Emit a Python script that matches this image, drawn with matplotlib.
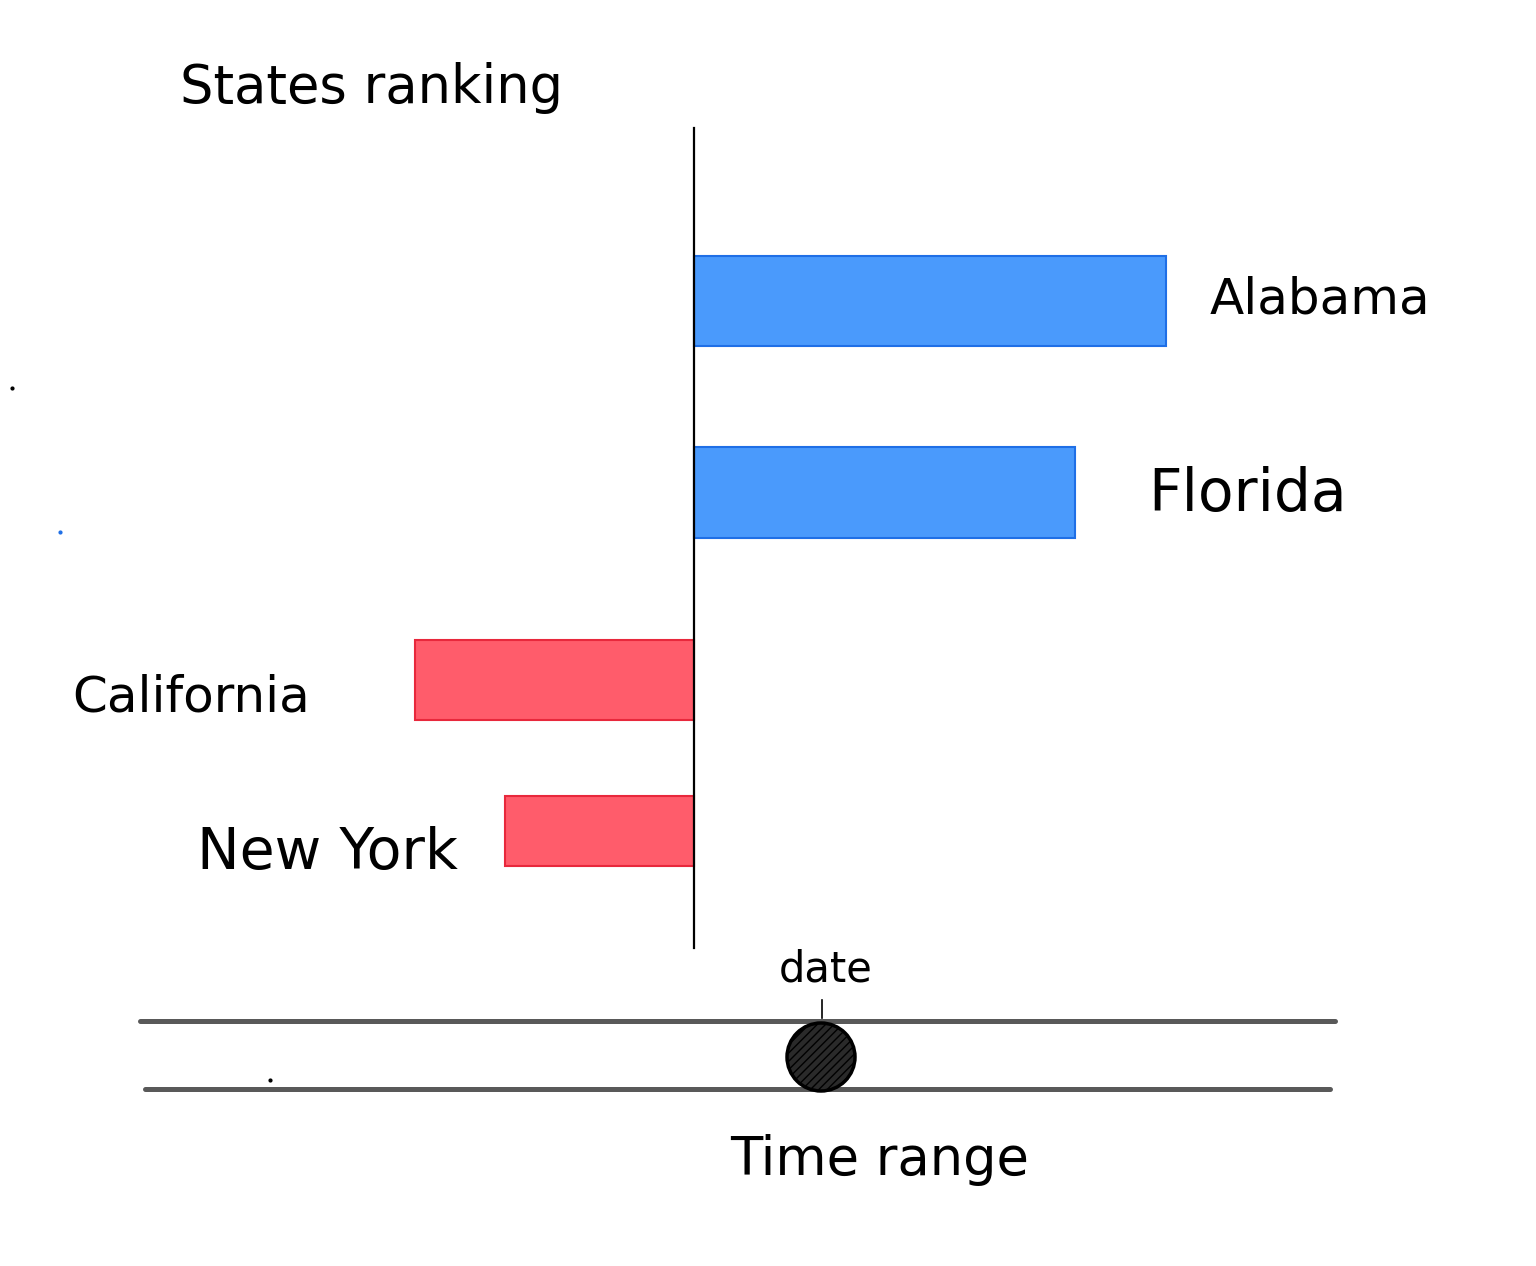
import matplotlib
matplotlib.use("Agg")
import matplotlib.pyplot as plt
from matplotlib.patches import Circle

plt.rcParams["font.family"] = ["DejaVu Sans"]

# data: hand-sketched ranking, arbitrary units (positive = blue, negative = red)
states = ["Alabama", "Florida", "California", "New York"]
values = [47.2, 38.1, -27.9, -18.9]
title = "States ranking"
slider_label = "date"
slider_caption = "Time range"

# layout (pixels on a 1536x1266 canvas)
bar_y = [301, 492, 680, 831]
bar_h = [90, 91, 80, 70]
label_x = [1210, 1148, 72, 197]
label_y = [300, 495, 698, 853]
label_fs = [36, 42, 36, 41]
W, H = 1536, 1266

fig = plt.figure(figsize=(15.36, 12.66), dpi=100)
fig.patch.set_facecolor("white")

# bars: x in value units, zero at pixel 694
ax = fig.add_axes([0, 0, 1, 1])
ax.set_xlim(-69.4, (W - 694) / 10)
ax.set_ylim(H, 0)
ax.axis("off")

face = ["#4a9afc" if v > 0 else "#ff5c6b" for v in values]
edge = ["#1f6fe6" if v > 0 else "#e8283c" for v in values]
ax.barh(bar_y, values, height=bar_h, color=face, edgecolor=edge, linewidth=1.5)
ax.plot([0, 0], [128, 948], color="black", lw=1.6)

# overlay in pixel coords for labels, title and time slider
lay = fig.add_axes([0, 0, 1, 1])
lay.set_xlim(0, W)
lay.set_ylim(H, 0)
lay.axis("off")
lay.patch.set_alpha(0)

for name, x, y, fs in zip(states, label_x, label_y, label_fs):
    lay.text(x, y, name, ha="left", va="center", fontsize=fs)

lay.text(180, 88, title, ha="left", va="center", fontsize=38)

lay.plot([140, 1335], [1021, 1021], color="#3c3c3c", lw=3.6, alpha=0.85,
         solid_capstyle="round")
lay.plot([145, 1330], [1089, 1089], color="#3c3c3c", lw=3.6, alpha=0.85,
         solid_capstyle="round")
lay.add_patch(Circle((821, 1057), 34, facecolor="#2a2a2a", edgecolor="black",
                     lw=2.5, hatch="////", zorder=3))
lay.plot([822, 822], [1000, 1018], color="black", lw=1.2)
lay.text(826, 970, slider_label, ha="center", va="center", fontsize=30)
lay.text(730, 1160, slider_caption, ha="left", va="center", fontsize=38)

# stray pen dots
lay.plot([12, 270], [388, 1080], "o", color="black", ms=2)
lay.plot([60], [532], "o", color="#1f6fe6", ms=2)

fig.savefig("out.png", dpi=100, facecolor="white")
